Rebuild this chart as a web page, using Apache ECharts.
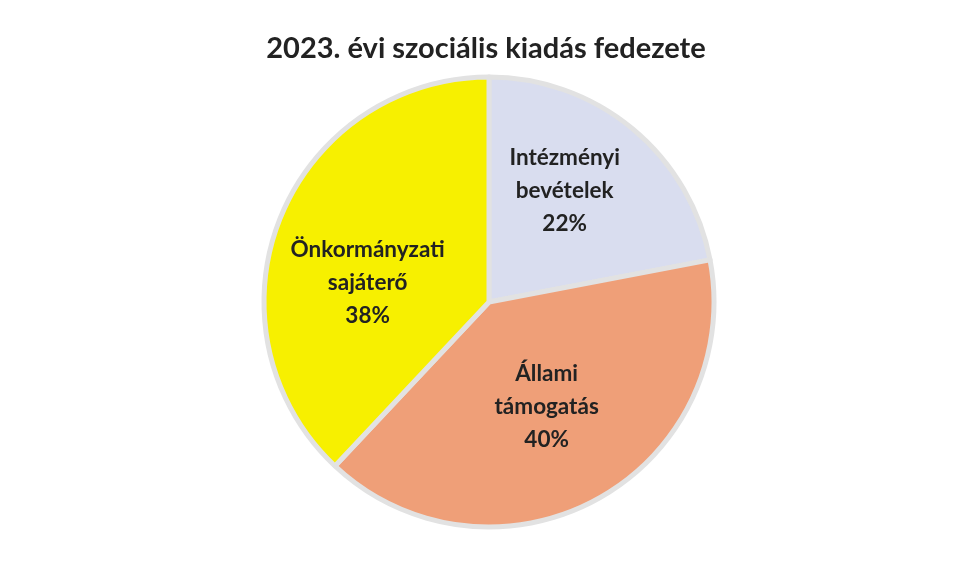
<!DOCTYPE html>
<html><head><meta charset="utf-8">
<script src="https://cdn.jsdelivr.net/npm/echarts@6/dist/echarts.min.js"></script>
<style>html,body{margin:0;padding:0;background:#fff}#c{width:972px;height:561px}</style>
</head><body><div id="c"></div>
<script>
const titleText = '2023. évi szociális kiadás fedezete';
const categories = ['Intézményi\nbevételek', 'Állami\ntámogatás', 'Önkormányzati\nsajáterő'];
const values = [22, 40, 38];
const colors = ['#d9ddef', '#ef9f78', '#f7f000'];
const labelOffsets = [[2, -22], [2, 4], [-14, 23]];

const chart = echarts.init(document.getElementById('c'));
chart.setOption({
  backgroundColor: '#ffffff',
  title: {
    text: titleText, left: 'center', top: 29,
    textStyle: { fontFamily: 'Lato', fontWeight: 'bold', fontSize: 29, color: '#222' }
  },
  series: [{
    type: 'pie',
    center: [489, 302],
    radius: 225,
    startAngle: 90,
    clockwise: true,
    animation: false,
    itemStyle: { borderColor: '#e2e2e2', borderWidth: 5 },
    label: {
      show: true, position: 'inside',
      fontFamily: 'Lato', fontWeight: 'bold', fontSize: 22.5, color: '#222', lineHeight: 33,
      formatter: p => p.name + '\n' + p.value + '%'
    },
    labelLine: { show: false },
    emphasis: { disabled: true },
    data: categories.map((c, i) => ({
      name: c, value: values[i],
      itemStyle: { color: colors[i] },
      label: { offset: labelOffsets[i] }
    }))
  }]
});
</script></body></html>
